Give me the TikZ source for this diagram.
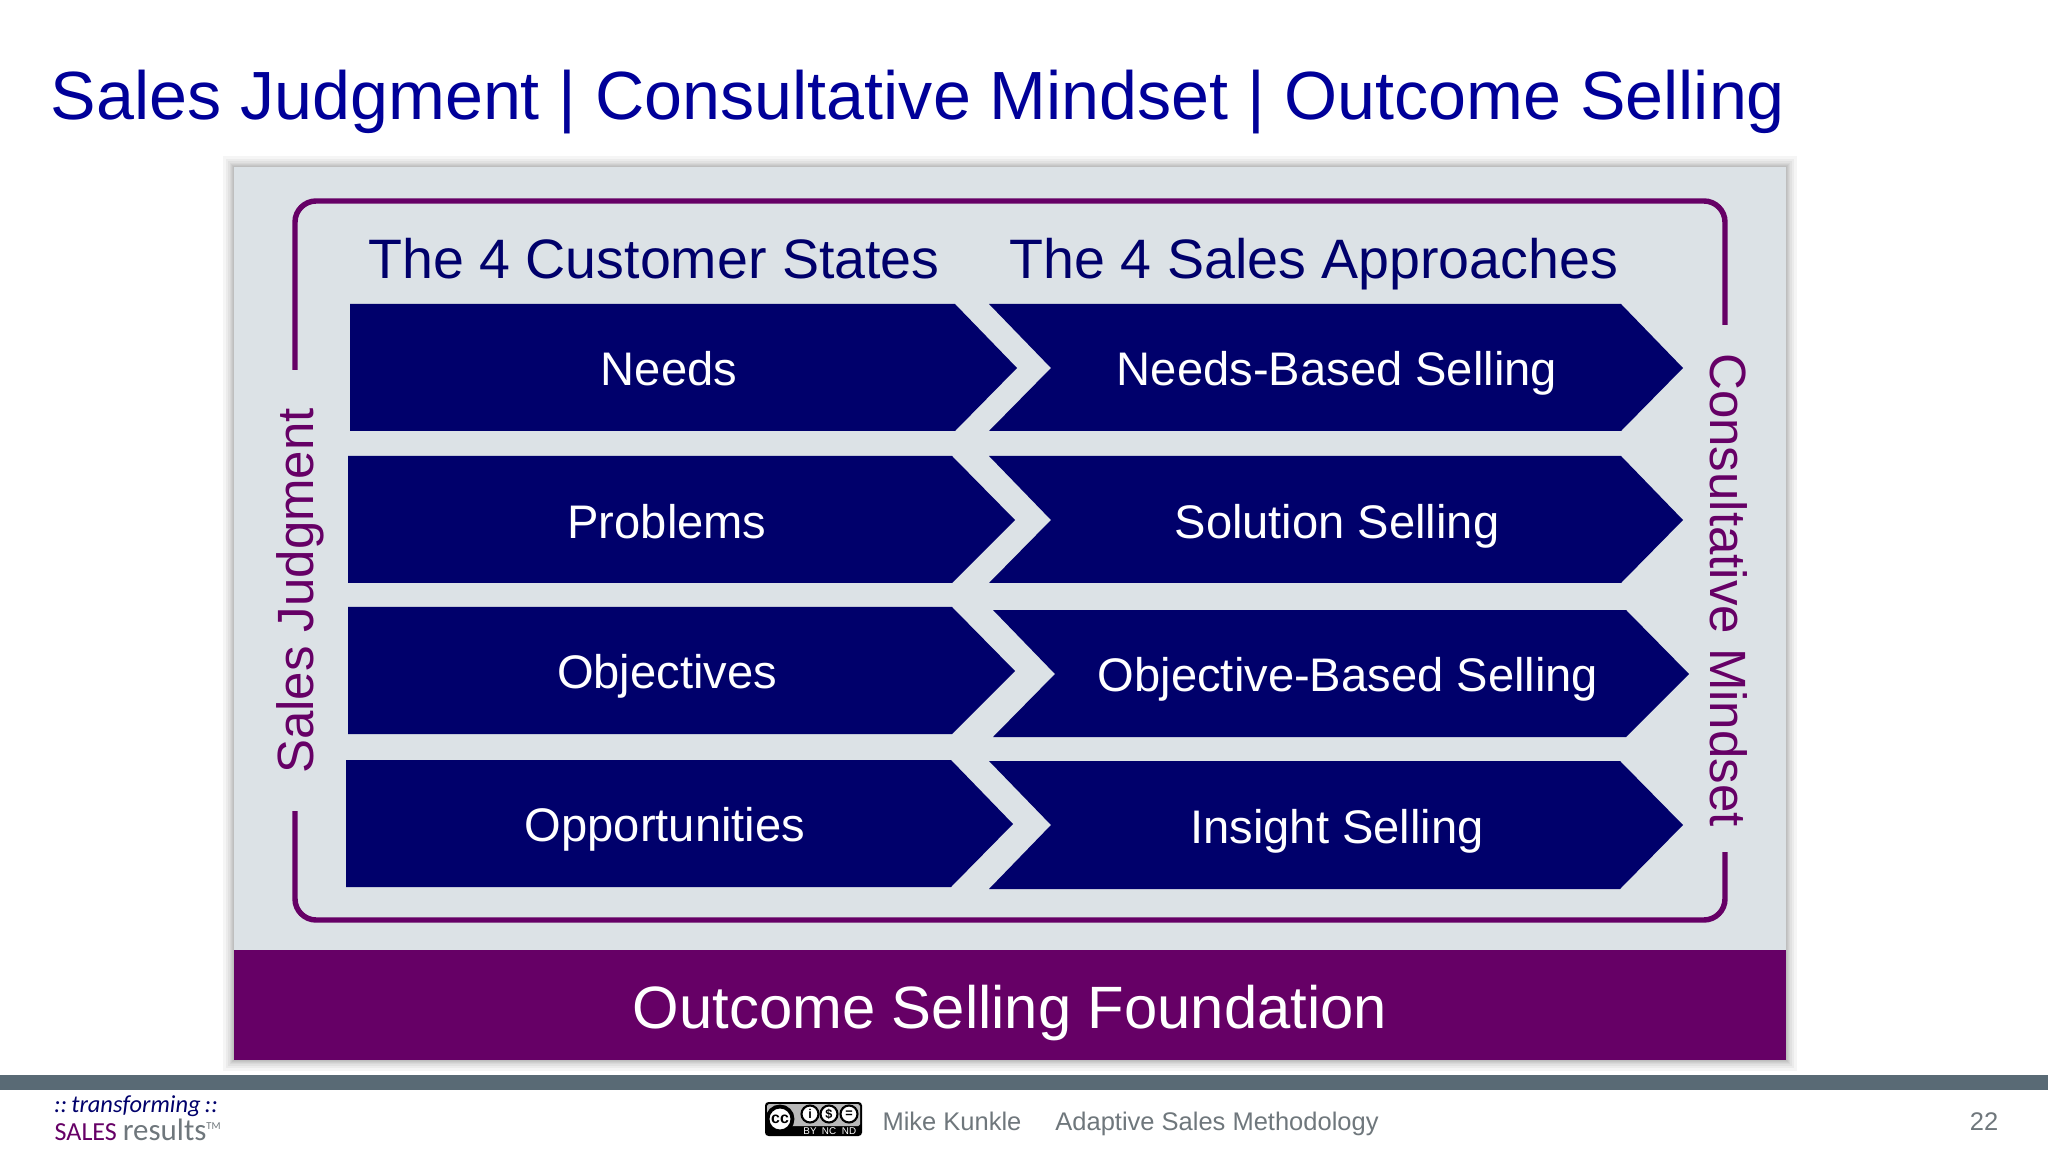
\documentclass[tikz,border=0pt]{standalone}
\usepackage{fontspec}
\setmainfont{Liberation Sans}
\newfontfamily\logofont{Carlito}
\usetikzlibrary{positioning,calc}
\definecolor{titleblue}{HTML}{000099}
\definecolor{navyfill}{HTML}{00006B}
\definecolor{plum}{HTML}{660066}
\definecolor{panelgray}{HTML}{DCE2E6}
\definecolor{bargray}{HTML}{596A75}
\definecolor{footgray}{HTML}{6F777C}
\newcommand{\fs}[1]{\fontsize{#1}{#1}\selectfont}

\begin{document}
\begin{tikzpicture}[
  x=0.01cm, y=-0.01cm,
  rowarrow/.style={fill=navyfill, draw=none},
  rowtext/.style={font=\fs{13.4}, text=white, inner sep=0pt, anchor=base},
  headtext/.style={font=\fs{15.8}, text=navyfill, inner sep=0pt, anchor=base},
  sidetext/.style={font=\fs{14.5}, text=plum, inner sep=0pt},
  bracket/.style={draw=plum, line width=1.55pt, rounded corners=6pt},
  foottext/.style={font=\fs{7.25}, text=footgray, inner sep=0pt, anchor=base},
  ccdisc/.style={circle, draw=black, line width=0.6pt, fill=white, inner sep=0pt, minimum size=0.17cm},
  cctext/.style={font=\fs{2.8}, text=white, inner sep=0pt}
]

% === Slide background ===
\path[use as bounding box, fill=white] (0,0) rectangle (2048,1152);

% === Title ===
\node[font=\fs{19.4}, text=titleblue, inner sep=0pt, anchor=base] (title) at (918,120)
  {Sales Judgment | Consultative Mindset | Outcome Selling};

% === Panel shadow ===
\foreach \s in {1,2,3,4,6,8,11} {
  \fill[black, opacity=0.04] (234-\s,167-\s) rectangle (1786+\s,1060+\s);
}

% === Panel and foundation ===
\fill[panelgray] (234,167) rectangle (1786,950);
\fill[plum] (234,950) rectangle (1786,1060);
\node[font=\fs{17}, text=white, inner sep=0pt, anchor=base] (foundation) at (1010,1028) {Outcome Selling Foundation};

% === Bracket ===
\draw[bracket] (295,370) -- (295,201) -- (1725,201) -- (1725,325);
\draw[bracket] (295,811) -- (295,920) -- (1725,920) -- (1725,852);

% === Side labels ===
\node[sidetext, rotate=90] (judgment) at (300,591) {Sales Judgment};
\node[sidetext, rotate=-90] (mindset) at (1729,590) {Consultative Mindset};

% === Column headings ===
\node[headtext] (states) at (654,279) {The 4 Customer States};
\node[headtext] (approaches) at (1314,279) {The 4 Sales Approaches};

% === Customer state arrows ===
\fill[rowarrow] (350,304) -- (955,304) -- (1017,368) -- (955,431) -- (350,431) -- cycle;
\fill[rowarrow] (348,456) -- (952,456) -- (1015,520) -- (952,583) -- (348,583) -- cycle;
\fill[rowarrow] (348,607) -- (952,607) -- (1015,671) -- (952,734) -- (348,734) -- cycle;
\fill[rowarrow] (346,760) -- (951,760) -- (1013,824) -- (951,887) -- (346,887) -- cycle;

% === Sales approach arrows ===
\fill[rowarrow] (989,304) -- (1621,304) -- (1683,368) -- (1621,431) -- (989,431) -- (1051,368) -- cycle;
\fill[rowarrow] (989,456) -- (1621,456) -- (1683,520) -- (1621,583) -- (989,583) -- (1051,520) -- cycle;
\fill[rowarrow] (993,610) -- (1626,610) -- (1689,674) -- (1626,737) -- (993,737) -- (1055,674) -- cycle;
\fill[rowarrow] (989,761) -- (1620,761) -- (1683,825) -- (1620,889) -- (989,889) -- (1051,825) -- cycle;

% === Arrow labels ===
\node[rowtext] (needs) at (669,386) {Needs};
\node[rowtext] (problems) at (667,538) {Problems};
\node[rowtext] (objectives) at (667,689) {Objectives};
\node[rowtext] (opportunities) at (665,841) {Opportunities};
\node[rowtext] (needsbased) at (1337,386) {Needs-Based Selling};
\node[rowtext] (solution) at (1337,538) {Solution Selling};
\node[rowtext] (objectivebased) at (1348,692) {Objective-Based Selling};
\node[rowtext] (insight) at (1337,843) {Insight Selling};

% === Footer bar ===
\fill[bargray] (0,1075) rectangle (2048,1090);

% === Logo ===
\node[font=\logofont\itshape\fs{6.95}, text=navyfill, inner sep=0pt, anchor=base] (transforming) at (136,1112) {::\,transforming\,::};
\node[font=\logofont\fs{7.4}, text=footgray, inner sep=0pt, anchor=base west] (results) at (54,1140)
  {\textcolor{plum}{SALES} {\fs{8.8}results}\textsuperscript{\fs{3}TM}};

% === Licence badge ===
\fill[black, rounded corners=1pt] (765,1102) rectangle (862,1136);
\fill[gray!55, rounded corners=0.5pt] (767,1104) rectangle (860,1126);
\node[ccdisc, minimum size=0.25cm, line width=1.1pt, font=\bfseries\fs{4.5}] (ccmark) at (780,1119) {cc};
\node[ccdisc, font=\bfseries\fs{3.6}] (by) at (810,1114) {i};
\node[ccdisc, font=\bfseries\fs{3.6}] (nc) at (829,1114) {\$};
\node[ccdisc, font=\bfseries\fs{3.6}] (nd) at (849,1114) {=};
\node[cctext] (bytext) at (810,1131.5) {BY};
\node[cctext] (nctext) at (829,1131.5) {NC};
\node[cctext] (ndtext) at (849,1131.5) {ND};

% === Footer text ===
\node[foottext] (author) at (952,1130) {Mike Kunkle};
\node[foottext] (method) at (1217,1130) {Adaptive Sales Methodology};
\node[foottext] (page) at (1984,1130) {22};

\end{tikzpicture}
\end{document}
